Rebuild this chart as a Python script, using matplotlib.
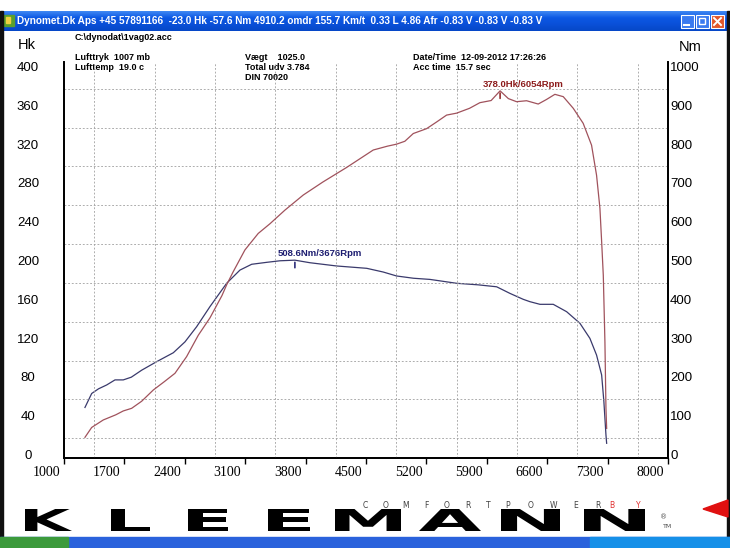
#!/usr/bin/env python3
"""
Dyno chart: power (Hk) and torque (Nm) against engine speed,
drawn inside a mock Dynomet window with the Kleemann logo.
"""

import numpy as np
import matplotlib
matplotlib.use("Agg")
import matplotlib.pyplot as plt
from matplotlib.patches import Rectangle, Polygon, PathPatch
from matplotlib.textpath import TextPath
from matplotlib.font_manager import FontProperties
from matplotlib.transforms import Affine2D, ScaledTranslation

W, H = 730, 548

# power curve (Hk)
rpm_hk = [1243, 1321, 1455, 1600, 1687, 1784, 1900, 2035, 2160, 2286, 2421,
          2556, 2692, 2831, 2885, 2958, 3097, 3251, 3387, 3560, 3773, 4000,
          4275, 4584, 4750, 4853, 4950, 5048, 5202, 5320, 5434, 5550, 5700,
          5820, 5950, 6054, 6150, 6245, 6361, 6496, 6590, 6689, 6786, 6902,
          7017, 7114, 7172, 7211, 7231, 7250, 7269, 7281, 7289]
hk = [20.8, 31.0, 38.7, 44.0, 48.0, 50.7, 58.0, 69.6, 78.0, 86.8, 104.0,
      126.0, 144.0, 167.0, 178.0, 191.0, 214.0, 231.0, 241.0, 255.0, 270.6, 284.0,
      299.0, 317.0, 321.0, 323.0, 326.0, 334.0, 339.0, 346.0, 353.0, 355.0, 360.0,
      365.8, 368.0, 378.0, 370.0, 366.8, 367.8, 364.4, 369.0, 374.4, 372.0, 360.0,
      344.5, 322.0, 291.0, 257.0, 222.5, 188.0, 119.0, 50.7, 30.0]

# torque curve (Nm)
rpm_nm = [1243, 1321, 1400, 1495, 1591, 1687, 1780, 1900, 2074, 2267, 2402,
          2537, 2692, 2885, 3039, 3175, 3349, 3503, 3676, 3850, 4160, 4508,
          4700, 4855, 5050, 5241, 5550, 5800, 6014, 6168, 6322, 6400, 6516,
          6670, 6825, 6979, 7095, 7172, 7231, 7257, 7281, 7289]
nm = [129.0, 165.0, 177.0, 187.0, 200.0, 200.0, 207.0, 225.0, 247.0, 270.0, 298.0,
      337.0, 389.0, 449.0, 483.0, 498.0, 503.0, 507.0, 508.6, 502.0, 493.6, 487.6,
      478.0, 467.8, 462.0, 459.0, 449.0, 445.0, 440.0, 423.0, 407.7, 401.6, 394.8,
      394.8, 375.8, 346.0, 307.0, 264.0, 212.6, 143.8, 58.0, 36.6]

x_ticks = list(range(1000, 8001, 700))
hk_ticks = list(range(0, 401, 40))
nm_ticks = list(range(0, 1001, 100))

title_text = ("Dynomet.Dk Aps +45 57891166  -23.0 Hk -57.6 Nm 4910.2 omdr 155.7 Km/t"
              "  0.33 L 4.86 Afr -0.83 V -0.83 V -0.83 V")
file_name = r"C:\dynodat\1vag02.acc"
header_left = ["Lufttryk  1007 mb", "Lufttemp  19.0 c"]
header_mid = ["Vægt    1025.0", "Total udv 3.784", "DIN 70020"]
header_right = ["Date/Time  12-09-2012 17:26:26", "Acc time  15.7 sec"]

RED = "#a0525c"
BLUE = "#3a3a6c"
RED_TXT = "#8c1c1c"
BLUE_TXT = "#1c1c70"

fig = plt.figure(figsize=(W / 100, H / 100), dpi=100, facecolor="white")

# ---- window background in pixel coordinates ----
bg = fig.add_axes([0, 0, 1, 1])
bg.set_xlim(0, W)
bg.set_ylim(H, 0)
bg.axis("off")

grad = np.linspace(0, 1, 20).reshape(-1, 1)
bg.imshow(grad, extent=(3, 727, 31, 11), aspect="auto",
          cmap=matplotlib.colors.LinearSegmentedColormap.from_list(
              "xp", ["#3d86f2", "#0c58e4", "#0a50d8", "#0648c8"]))
bg.text(17, 21, title_text, color="white", fontsize=7.2, fontweight="bold",
        family="Liberation Sans", va="center", ha="left")
bg.add_patch(Rectangle((4, 15), 10, 11, color="#5aa02c"))
bg.add_patch(Rectangle((6, 17), 4, 6, color="#f0d040"))

# title bar buttons
for x0, col in [(681, "#3a7af0"), (696, "#3a7af0"), (711, "#e2572a")]:
    bg.add_patch(Rectangle((x0, 15), 13, 13, facecolor=col,
                           edgecolor="white", lw=0.8))
bg.plot([684, 689], [25, 25], color="white", lw=1.5)
bg.add_patch(Rectangle((699, 18), 6, 6, fill=False, edgecolor="white", lw=1))
bg.plot([714, 721], [18, 25], color="white", lw=1.4)
bg.plot([714, 721], [25, 18], color="white", lw=1.4)

# window frame and task bar
bg.add_patch(Rectangle((0, 11), 3, 526, color="#101010"))
bg.add_patch(Rectangle((727, 11), 3, 526, color="#101010"))
bg.add_patch(Rectangle((0, 537), W, 11, color="#2a62dc"))
bg.add_patch(Rectangle((0, 537), 68, 11, color="#3c9a3c"))
bg.add_patch(Rectangle((590, 537), 140, 11, color="#1690e8"))

# header info
hfont = dict(fontsize=6.5, fontweight="bold", family="Liberation Sans",
             va="center", ha="left")
bg.text(75, 37, file_name, **hfont)
for i, s in enumerate(header_left):
    bg.text(75, 57 + 11 * i, s, **hfont)
for i, s in enumerate(header_mid):
    bg.text(245, 57 + 10.5 * i, s, **hfont)
for i, s in enumerate(header_right):
    bg.text(413, 57 + 11 * i, s, **hfont)

bg.text(27, 45, "Hk", fontsize=10.5, family="Liberation Sans", ha="center", va="center")
bg.text(690, 47, "Nm", fontsize=10.5, family="Liberation Sans", ha="center", va="center")

# ---- Kleemann logo ----
logo_font = FontProperties(family="DejaVu Sans", weight="bold")
letters = [("K", 25, 72), ("L", 111, 150), ("E", 188, 228), ("E", 268, 310),
           ("M", 335, 401), ("A", 419, 481), ("N", 501, 560), ("N", 584, 645)]
y_top, y_bot = 509, 531
for ch, x0, x1 in letters:
    tp = TextPath((0, 0), ch, size=10, prop=logo_font)
    ext = tp.get_extents()
    sx = (x1 - x0) / ext.width
    sy = (y_bot - y_top) / ext.height
    tr = Affine2D().translate(-ext.x0, -ext.y0).scale(sx, -sy).translate(x0, y_bot)
    bg.add_patch(PathPatch(tr.transform_path(tp), color="black", lw=0))

small = dict(fontsize=5.5, family="DejaVu Sans", ha="center", va="center")
for word, xa, xb, col in [("COMFORT", 365, 488, "#404040"),
                          ("POWER", 508, 598, "#404040"),
                          ("BY", 612, 638, "#e03030")]:
    for ch, xc in zip(word, np.linspace(xa, xb, len(word))):
        bg.text(xc, 505, ch, color=col, **small)
bg.text(664, 517, "®", fontsize=5, ha="center", va="center", color="#505050")
bg.text(668, 527, "TM", fontsize=4.5, ha="center", va="center", color="#505050")
bg.add_patch(Polygon([(703, 509), (728, 500), (728, 517)], closed=True, color="#e01010"))

# ---- chart ----
x_px0, x_px1 = 64, 668
y_zero, y_400, y_top_px = 457.5, 69.5, 62
frac = (y_zero - y_top_px) / (y_zero - y_400)

ax = fig.add_axes([x_px0 / W, 1 - y_zero / H, (x_px1 - x_px0) / W,
                   (y_zero - y_top_px) / H])
ax2 = ax.twinx()
ax.set_zorder(ax2.get_zorder() + 1)
ax.patch.set_visible(False)

ax.set_xlim(1000, 8000)
ax.set_ylim(0, 400 * frac)
ax2.set_ylim(0, 1000 * frac)

ax.plot(rpm_hk, hk, color=RED, lw=0.9, zorder=3)
ax2.plot(rpm_nm, nm, color=BLUE, lw=0.9, zorder=3)

# peak markers
i_hk = int(np.argmax(hk))
i_nm = int(np.argmax(nm))
for a, rx, vy, unit, col in [(ax, rpm_hk[i_hk], hk[i_hk], "Hk", RED_TXT),
                             (ax2, rpm_nm[i_nm], nm[i_nm], "Nm", BLUE_TXT)]:
    a.annotate(f"{vy:.1f}{unit}/{rx}Rpm", xy=(rx, vy), xytext=(-12.7, 1.5),
               textcoords="offset points", ha="left", va="bottom",
               fontsize=6.8, fontweight="bold", family="Liberation Sans", color=col)
    a.annotate("", xy=(rx, vy), xytext=(0, -5.5), textcoords="offset points",
               arrowprops=dict(arrowstyle="-", color=col, lw=1.1,
                               shrinkA=0, shrinkB=1.5))

# grid on half steps
ax.set_xticks(np.arange(1350, 7700, 350), minor=True)
ax.set_yticks(np.arange(20, 400, 20), minor=True)
ax.grid(which="minor", color="#a0a0a0", lw=0.6, linestyle=(0, (2.2, 2.2)))
ax.grid(which="major", visible=False)
ax.tick_params(which="minor", length=0)
ax2.tick_params(which="minor", length=0)

for a in (ax, ax2):
    a.spines["top"].set_visible(False)
    for s in ("left", "bottom", "right"):
        a.spines[s].set_linewidth(1.3)
        a.spines[s].set_color("black")

ax.set_xticks(x_ticks)
ax.set_xticklabels([str(v) for v in x_ticks])
ax.tick_params(axis="x", direction="out", length=4, width=1, pad=2,
               labelsize=10, labelfontfamily="Liberation Serif")

ax.set_yticks(hk_ticks)
ax.set_yticklabels([str(v) for v in hk_ticks])
ax.tick_params(axis="y", length=0, pad=26, labelsize=9.5,
               labelfontfamily="Liberation Sans")
ax2.set_yticks(nm_ticks)
ax2.set_yticklabels([str(v) for v in nm_ticks])
ax2.tick_params(axis="y", length=0, pad=1.5, labelsize=9.5,
                labelfontfamily="Liberation Sans")

shift_left = ScaledTranslation(-4 / 100, 0, fig.dpi_scale_trans)
for lbl in ax.get_xticklabels():
    lbl.set_ha("right")
    lbl.set_transform(lbl.get_transform() + shift_left)
shift_up = ScaledTranslation(0, 3 / 100, fig.dpi_scale_trans)
for lbl in ax.get_yticklabels():
    lbl.set_ha("center")
    lbl.set_transform(lbl.get_transform() + shift_up)
for lbl in ax2.get_yticklabels():
    lbl.set_transform(lbl.get_transform() + shift_up)

fig.savefig("out.png", dpi=100, facecolor="white")
